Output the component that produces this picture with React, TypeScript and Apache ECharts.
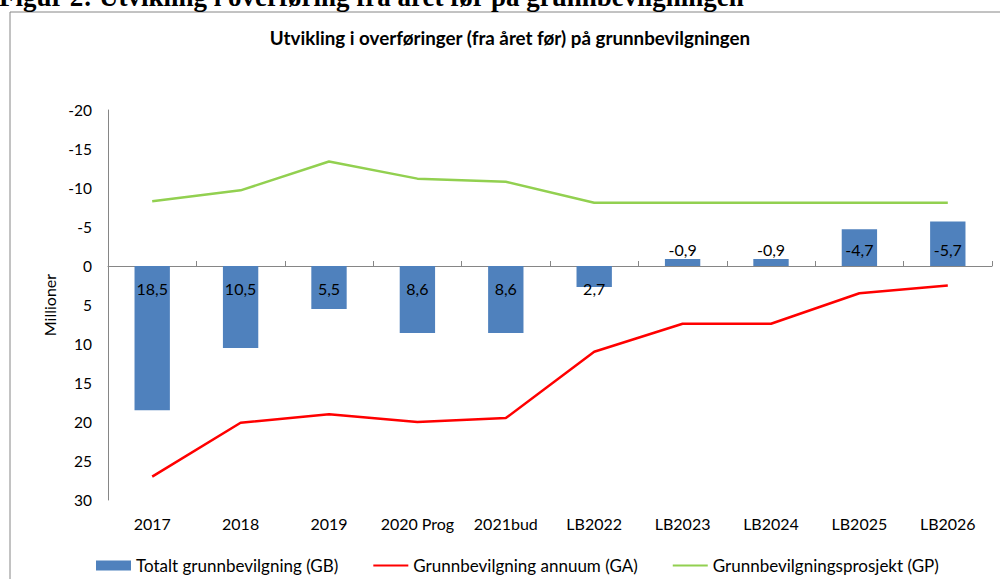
import React, { useEffect, useRef } from "react";
import * as echarts from "echarts";

const categories = ["2017", "2018", "2019", "2020 Prog", "2021bud", "LB2022", "LB2023", "LB2024", "LB2025", "LB2026"];
const gbValues = [18.5, 10.5, 5.5, 8.6, 8.6, 2.7, -0.9, -0.9, -4.7, -5.7];
const gaValues = [27.0, 20.1, 19.0, 20.0, 19.5, 11.0, 7.4, 7.4, 3.5, 2.5];
const gpValues = [-8.3, -9.7, -13.4, -11.2, -10.8, -8.1, -8.1, -8.1, -8.1, -8.1];
const seriesNames = ["Totalt grunnbevilgning (GB)", "Grunnbevilgning annuum (GA)", "Grunnbevilgningsprosjekt (GP)"];
const captionText = "Figur 2: Utvikling i overføring fra året før på grunnbevilgningen";
const titleText = "Utvikling i overføringer (fra året før) på grunnbevilgningen";
const yAxisName = "Millioner";

const FONT = "Lato";
const AXIS_COLOR = "#868686";

export default function App() {
  const ref = useRef<HTMLDivElement>(null);
  useEffect(() => {
    const chart = echarts.init(ref.current!, null, { renderer: "svg" });
    const fmt = (v: number) => String(v).replace(".", ",");
    chart.setOption({
      animation: false,
      backgroundColor: "#fff",
      textStyle: { fontFamily: FONT },
      graphic: [
        {
          type: "rect",
          shape: { x: 10, y: 12, width: 1100, height: 700 },
          style: { fill: "none", stroke: AXIS_COLOR, lineWidth: 1 },
          silent: true,
        },
        {
          type: "text",
          style: {
            text: captionText,
            x: -1,
            y: -3,
            verticalAlign: "middle",
            fontFamily: "Liberation Serif",
            fontWeight: "bold",
            fontSize: 27,
            fill: "#000",
          },
        },
        {
          type: "text",
          style: {
            text: titleText,
            x: 510,
            y: 37,
            align: "center",
            verticalAlign: "middle",
            fontFamily: FONT,
            fontWeight: "bold",
            fontSize: 18.8,
            fill: "#000",
          },
        },
      ],
      grid: { left: 108, right: 8, top: 110, bottom: 79, containLabel: false },
      legend: {
        left: 91,
        top: 552,
        itemWidth: 35,
        itemHeight: 10,
        itemGap: 34,
        textStyle: { fontFamily: FONT, fontSize: 17, color: "#000" },
        data: [
          { name: seriesNames[0], icon: "rect" },
          { name: seriesNames[1], itemStyle: { opacity: 0 } },
          { name: seriesNames[2], itemStyle: { opacity: 0 } },
        ],
      },
      xAxis: [
        {
          type: "category",
          data: categories,
          position: "bottom",
          axisLine: { onZero: true, lineStyle: { color: AXIS_COLOR, width: 1 } },
          axisTick: { show: true, inside: true, length: 5, interval: 0, lineStyle: { color: AXIS_COLOR } },
          axisLabel: { show: false },
        },
        {
          type: "category",
          data: categories,
          position: "bottom",
          axisLine: { show: false, onZero: false },
          axisTick: { show: false },
          axisLabel: { show: true, interval: 0, margin: 15, fontFamily: FONT, fontSize: 16, color: "#000" },
        },
      ],
      yAxis: {
        type: "value",
        inverse: true,
        min: -20,
        max: 30,
        interval: 5,
        name: yAxisName,
        nameLocation: "middle",
        nameRotate: 90,
        nameGap: 49,
        nameTextStyle: { fontFamily: FONT, fontSize: 16, color: "#000" },
        axisLine: { show: true, lineStyle: { color: AXIS_COLOR, width: 1 } },
        axisTick: { show: false },
        splitLine: { show: false },
        axisLabel: { margin: 16, fontFamily: FONT, fontSize: 15.5, color: "#000" },
      },
      series: [
        {
          name: seriesNames[0],
          type: "bar",
          barWidth: "40%",
          itemStyle: { color: "#4F81BD" },
          data: gbValues.map((v) => ({
            value: v,
            label: {
              show: true,
              position: v >= 0 ? "insideTop" : "insideBottom",
              distance: v >= 0 ? 14 : 9,
            },
          })),
          label: {
            show: true,
            formatter: (p: any) => fmt(p.value),
            fontFamily: FONT,
            fontSize: 16,
            color: "#000",
          },
        },
        {
          name: seriesNames[1],
          type: "line",
          data: gaValues,
          symbol: "none",
          lineStyle: { color: "#FF0000", width: 2.5 },
          itemStyle: { color: "#FF0000" },
        },
        {
          name: seriesNames[2],
          type: "line",
          data: gpValues,
          symbol: "none",
          lineStyle: { color: "#92D050", width: 2.5 },
          itemStyle: { color: "#92D050" },
        },
      ],
    });
    return () => chart.dispose();
  }, []);
  return (
    <div
      ref={ref}
      style={{ position: "fixed", left: 0, top: 0, width: 1000, height: 579, background: "#fff" }}
    />
  );
}
